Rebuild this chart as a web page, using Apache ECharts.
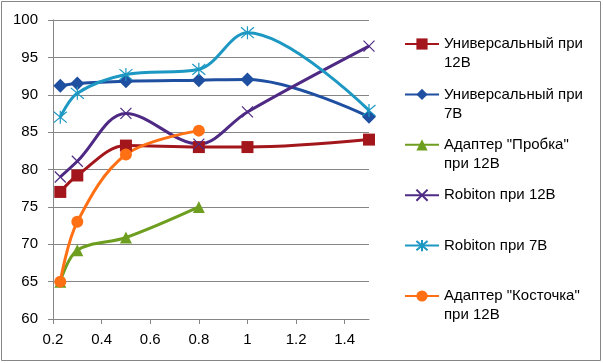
<!DOCTYPE html>
<html><head><meta charset="utf-8">
<script src="https://cdn.jsdelivr.net/npm/echarts@6/dist/echarts.min.js"></script>
<style>html,body{margin:0;padding:0;background:#fff}#c{width:603px;height:363px}</style>
</head><body><div id="c"></div>
<script>
// ---- data ----
const seriesNames = ['Универсальный при 12В', 'Универсальный при 7В', 'Адаптер "Пробка" при 12В', 'Robiton при 12В', 'Robiton при 7В', 'Адаптер "Косточка" при 12В'];
const legendLines = [['Универсальный при', '12В'], ['Универсальный при', '7В'], ['Адаптер "Пробка"', 'при 12В'], ['Robiton при 12В'], ['Robiton при 7В'], ['Адаптер "Косточка"', 'при 12В']];
const xLong = [0.23, 0.3, 0.5, 0.8, 1.0, 1.5];
const xShort = [0.23, 0.3, 0.5, 0.8];
const uni12 = [77, 79.2, 83.2, 83, 83, 84];
const uni7 = [91.2, 91.5, 91.8, 91.95, 92.05, 87.05];
const probka = [65, 69.2, 70.9, 75];
const robiton12 = [79, 81.1, 87.5, 83.4, 87.7, 96.5];
const robiton7 = [87, 90.2, 92.7, 93.4, 98.3, 87.9];
const kostochka = [65, 73, 82, 85.2];
const xTicks = [0.2, 0.4, 0.6, 0.8, 1, 1.2, 1.4];
const yTicks = [60, 65, 70, 75, 80, 85, 90, 95, 100];

// ---- styles ----
const FONT = 'Liberation Sans';
const colors = ['#A3161B', '#1F4FA0', '#6E9E1F', '#4E2A84', '#1C98C2', '#FF7014'];
const xPath = 'path://M0,0L10,10M10,0L0,10';
const starPath = 'path://M0,0L10,10M10,0L0,10M5,-1L5,11';
const symbols = ['rect', 'diamond', 'triangle', xPath, starPath, 'circle'];
const symbolSizes = [12, 14, 12, 11, 13, 12];
const xsets = [xLong, xLong, xShort, xLong, xLong, xShort];
const ysets = [uni12, uni7, probka, robiton12, robiton7, kostochka];

const series = seriesNames.map((name, i) => ({
  type: 'line', name,
  data: xsets[i].map((x, j) => [x, ysets[i][j]]),
  smooth: 0.35,
  symbol: symbols[i], symbolSize: symbolSizes[i],
  showAllSymbol: true,
  lineStyle: { width: 3, color: colors[i] },
  itemStyle: { color: colors[i], borderColor: colors[i], borderWidth: (i === 3 || i === 4) ? 1.2 : 0 },
  emphasis: { disabled: true },
  animation: false
}));

const legends = seriesNames.map((name, i) => ({
  data: [name], orient: 'vertical', left: 404, top: 45 + 50.4 * i - 29.5,
  padding: 0, itemWidth: 34, itemHeight: 14,
  formatter: () => '\n' + legendLines[i].join('\n') + (legendLines[i].length === 1 ? '\n ' : ''),
  textStyle: { fontSize: 15, lineHeight: 19, color: '#000', fontFamily: FONT },
  selectedMode: false
}));

const chart = echarts.init(document.getElementById('c'), null, { renderer: 'canvas' });
chart.setOption({
  animation: false,
  backgroundColor: '#fff',
  grid: { left: 53, top: 20, right: 234, bottom: 44, containLabel: false },
  xAxis: {
    type: 'value', min: 0.2, max: 1.5, interval: 0.2,
    axisLine: { show: true, lineStyle: { color: '#868686', width: 1 } },
    axisTick: { show: true, length: 5, lineStyle: { color: '#868686' } },
    axisLabel: { color: '#000', fontSize: 15, fontFamily: FONT, margin: 13, showMaxLabel: false,
      formatter: v => { const r = Math.round(v * 10) / 10; return xTicks.indexOf(r) >= 0 ? String(r) : ''; } },
    splitLine: { show: false }
  },
  yAxis: {
    type: 'value', min: 60, max: 100, interval: 5,
    axisLine: { show: true, lineStyle: { color: '#868686', width: 1 } },
    axisTick: { show: true, length: 5, lineStyle: { color: '#868686' } },
    axisLabel: { color: '#000', fontSize: 15, fontFamily: FONT, margin: 15,
      formatter: v => yTicks.indexOf(v) >= 0 ? String(v) : '' },
    splitLine: { show: true, lineStyle: { color: '#868686', width: 1 } }
  },
  legend: legends,
  series,
  graphic: [{ type: 'rect', shape: { x: 1.5, y: 1.5, width: 599, height: 359 }, style: { fill: 'none', stroke: '#868686', lineWidth: 1 }, silent: true }]
});
</script></body></html>
